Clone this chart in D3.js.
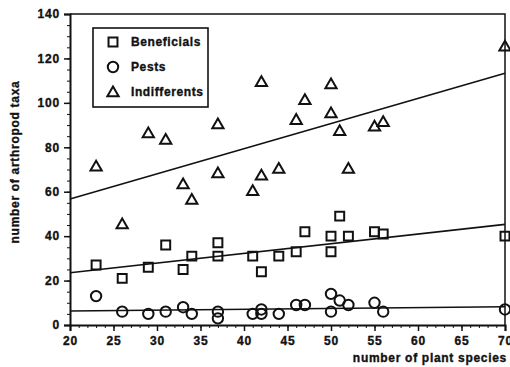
<!DOCTYPE html>
<html>
<head>
<meta charset="utf-8">
<script src="https://cdn.jsdelivr.net/npm/d3@7"></script>
<style>
  body { margin: 0; background: #fff; }
  text { font-family: "Liberation Sans", Arial, sans-serif; font-weight: bold; fill: #111; stroke: #111; stroke-width: 0.35px; }
</style>
</head>
<body>
<div id="chart"></div>
<script>
// values
const benX = [23, 26, 29, 31, 33, 34, 37, 37, 41, 42, 44, 46, 47, 50, 50, 51, 52, 55, 56, 70];
const benY = [27, 21, 26, 36, 25, 31, 37, 31, 31, 24, 31, 33, 42, 40, 33, 49, 40, 42, 41, 40];

const pestX = [23, 26, 29, 31, 33, 34, 37, 37, 41, 42, 42, 44, 46, 47, 50, 50, 51, 52, 55, 56, 70];
const pestY = [13, 6, 5, 6, 8, 5, 6, 3, 5, 7, 5, 5, 9, 9, 14, 6, 11, 9, 10, 6, 7];

const indX = [23, 26, 29, 31, 33, 34, 37, 37, 41, 42, 42, 44, 46, 47, 50, 50, 51, 52, 55, 56, 70];
const indY = [71, 45, 86, 83, 63, 56, 90, 68, 60, 67, 109, 70, 92, 101, 108, 95, 87, 70, 89, 91, 125];

// regression lines, y at x=20 and x=70
const fitX = [20, 70];
const benFit = [23.5, 45.3];
const pestFit = [6.3, 8.2];
const indFit = [56.7, 113.3];

const seriesNames = ["Beneficials", "Pests", "Indifferents"];
const xTicks = [20, 25, 30, 35, 40, 45, 50, 55, 60, 65, 70];
const yTicks = [0, 20, 40, 60, 80, 100, 120, 140];

const width = 510, height = 367;
const margin = { top: 14, right: 5, bottom: 42, left: 70 };

const svg = d3.select("#chart").append("svg")
  .attr("width", width)
  .attr("height", height);

const x = d3.scaleLinear().domain([20, 70]).range([margin.left, width - margin.right]);
const y = d3.scaleLinear().domain([0, 140]).range([height - margin.bottom, margin.top]);

const ink = "#111";

// frame top + right
svg.append("path")
  .attr("d", `M${x(20)},${y(140)}H${x(70)}V${y(0)}`)
  .attr("fill", "none").attr("stroke", ink).attr("stroke-width", 1.5);

// minor ticks
const xMinor = svg.append("g").attr("transform", `translate(0,${y(0)})`)
  .call(d3.axisBottom(x).ticks(50).tickSize(3).tickFormat(""));
const yMinor = svg.append("g").attr("transform", `translate(${x(20)},0)`)
  .call(d3.axisLeft(y).ticks(28).tickSize(3).tickFormat(""));
[xMinor, yMinor].forEach(g => {
  g.select(".domain").remove();
  g.selectAll("line").attr("stroke", ink).attr("stroke-width", 1);
});

// main axes
const xAxis = svg.append("g").attr("transform", `translate(0,${y(0)})`)
  .call(d3.axisBottom(x).tickValues(xTicks).tickSize(6).tickPadding(5));
const yAxis = svg.append("g").attr("transform", `translate(${x(20)},0)`)
  .call(d3.axisLeft(y).tickValues(yTicks).tickSize(6).tickPadding(4));
[xAxis, yAxis].forEach(g => {
  g.select(".domain").attr("stroke", ink).attr("stroke-width", 2);
  g.selectAll("line").attr("stroke", ink).attr("stroke-width", 1.5);
  g.selectAll("text")
    .style("font-size", "12px").style("font-weight", "bold")
    .style("letter-spacing", "0.8px")
    .attr("fill", ink);
});

// axis titles
svg.append("text")
  .attr("x", x(70) + 2).attr("y", 362)
  .attr("text-anchor", "end")
  .style("font-size", "12px").style("letter-spacing", "0.7px")
  .text("number of plant species");

svg.append("text")
  .attr("transform", `translate(19,${162}) rotate(-90)`)
  .attr("text-anchor", "middle")
  .style("font-size", "12px").style("letter-spacing", "0.7px")
  .text("number of arthropod taxa");

// regression lines
const line = d3.line().x(d => x(d[0])).y(d => y(d[1]));
[benFit, pestFit, indFit].forEach(f => {
  svg.append("path")
    .attr("d", line(d3.zip(fitX, f)))
    .attr("fill", "none").attr("stroke", ink).attr("stroke-width", 1.6);
});

// marker shapes
const square = d3.symbol().type(d3.symbolSquare).size(80);
const circle = d3.symbol().type(d3.symbolCircle).size(85);
const triangle = d3.symbol().type(d3.symbolTriangle).size(55);
const shapes = [square, circle, triangle];

function drawPoints(xs, ys, shape) {
  svg.append("g").selectAll("path")
    .data(d3.zip(xs, ys))
    .join("path")
    .attr("transform", d => `translate(${x(d[0])},${y(d[1])})`)
    .attr("d", shape)
    .attr("fill", "none")
    .attr("stroke", ink)
    .attr("stroke-width", 2);
}
drawPoints(benX, benY, square);
drawPoints(pestX, pestY, circle);
drawPoints(indX, indY, triangle);

// legend
const legend = svg.append("g");
legend.append("rect")
  .attr("x", 93).attr("y", 28).attr("width", 115).attr("height", 79)
  .attr("fill", "#fff").attr("stroke", ink).attr("stroke-width", 1.6);

const rowY = [42, 67, 92];
seriesNames.forEach((name, i) => {
  legend.append("path")
    .attr("transform", `translate(113,${rowY[i] + (i === 2 ? 1 : 0)})`)
    .attr("d", shapes[i])
    .attr("fill", "none").attr("stroke", ink).attr("stroke-width", 2);
  legend.append("text")
    .attr("x", 131).attr("y", rowY[i] + 4)
    .style("font-size", "12px").style("letter-spacing", "0.6px")
    .text(name);
});
</script>
</body>
</html>
